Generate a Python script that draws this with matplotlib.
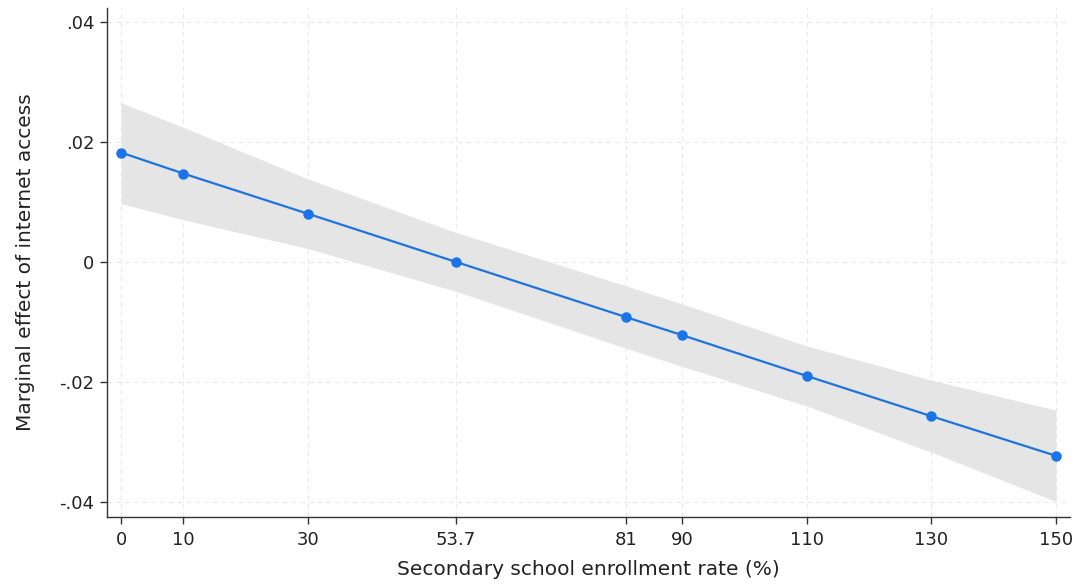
import matplotlib
matplotlib.use("Agg")
import matplotlib.pyplot as plt

plt.rcParams['font.family'] = ['DejaVu Sans']

enroll = [0, 10, 30, 53.7, 81, 90, 110, 130, 150]
effect = [0.0182, 0.0147, 0.0080, 0.0000, -0.0092, -0.0122, -0.0190, -0.0257, -0.0323]
ci_upper = [0.0265, 0.0224, 0.0138, 0.0049, -0.0040, -0.0070, -0.0140, -0.0197, -0.0247]
ci_lower = [0.0097, 0.0070, 0.0022, -0.0049, -0.0144, -0.0174, -0.0240, -0.0317, -0.0399]
xtick_labels = ["0", "10", "30", "53.7", "81", "90", "110", "130", "150"]
yticks = [-0.04, -0.02, 0, 0.02, 0.04]
ytick_labels = ["-.04", "-.02", "0", ".02", ".04"]

fig = plt.figure(figsize=(10.77, 5.88), dpi=100)
ax = fig.add_axes([0.0994, 0.1207, 0.894, 0.866])

ax.fill_between(enroll, ci_lower, ci_upper, color='#e3e3e3', alpha=0.9, linewidth=0, zorder=1)
ax.plot(enroll, effect, color='#1e74dc', linewidth=1.6, marker='o', markersize=6.5,
        markerfacecolor='#1a73e8', markeredgecolor='#1a73e8', zorder=3)

ax.set_xlim(-2.25, 152.25)
ax.set_ylim(-0.0425, 0.0423)
ax.set_xticks(enroll)
ax.set_xticklabels(xtick_labels)
ax.set_yticks(yticks)
ax.set_yticklabels(ytick_labels)

ax.grid(True, linestyle=(0, (4, 3)), color='#ebebeb', linewidth=0.9, zorder=0)
ax.set_axisbelow(True)
for s in ['top', 'right']:
    ax.spines[s].set_visible(False)
for s in ['left', 'bottom']:
    ax.spines[s].set_color('#333333')
    ax.spines[s].set_linewidth(1.0)

ax.tick_params(axis='both', direction='out', length=5, width=1, color='#333333',
               labelsize=13, labelcolor='#222222')
ax.tick_params(axis='x', pad=5)
ax.tick_params(axis='y', pad=4)
ax.set_xlabel("Secondary school enrollment rate (%)", fontsize=14.5, color='#222222', labelpad=8)
ax.set_ylabel("Marginal effect of internet access", fontsize=14.5, color='#222222', labelpad=18)

fig.savefig("out.png", dpi=100)
